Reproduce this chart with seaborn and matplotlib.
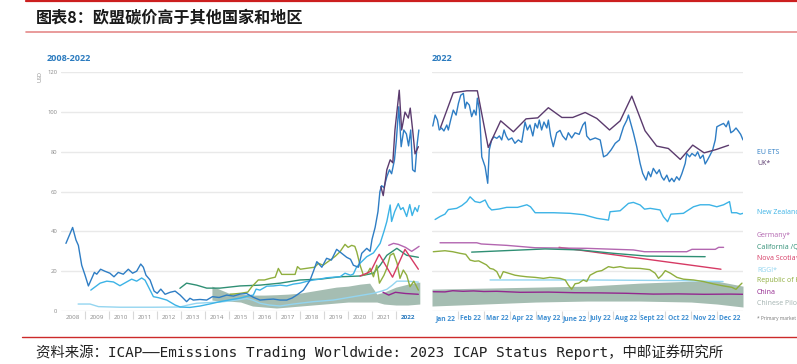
import numpy as np
import pandas as pd
import matplotlib
matplotlib.use("Agg")
import matplotlib.pyplot as plt
from matplotlib.lines import Line2D
import seaborn as sns

sns.set_theme(style="white")
plt.rcParams['font.family'] = ['Open Sans', 'Noto Sans CJK SC', 'DejaVu Sans']

W, H = 797, 364

# ---------------- data: 2008-2022 panel (decimal year, USD) ----------------
eu_year = [2008.19, 2008.33, 2008.47, 2008.61, 2008.71, 2008.85, 2008.99, 2009.13, 2009.27, 2009.38,
           2009.48, 2009.64, 2009.82, 2010.03, 2010.2, 2010.38, 2010.59, 2010.8, 2010.98, 2011.15,
           2011.32, 2011.43, 2011.54, 2011.71, 2011.88, 2012.01, 2012.16, 2012.34, 2012.55, 2012.76,
           2012.97, 2013.24, 2013.38, 2013.52, 2013.8, 2014.08, 2014.32, 2014.6, 2014.92, 2015.2,
           2015.48, 2015.75, 2016.03, 2016.31, 2016.6, 2016.87, 2017.15, 2017.43, 2017.65, 2017.85,
           2018.13, 2018.41, 2018.55, 2018.69, 2018.9, 2019.1, 2019.3, 2019.52, 2019.73, 2019.94,
           2020.1, 2020.22, 2020.43, 2020.57, 2020.78, 2020.92, 2021.0, 2021.13, 2021.25, 2021.33,
           2021.4, 2021.5, 2021.62, 2021.73, 2021.82, 2021.94, 2022.02, 2022.12, 2022.22, 2022.33,
           2022.44, 2022.53, 2022.62, 2022.7, 2022.8, 2022.89, 2022.96]
eu_usd = [34, 38, 42, 35.7, 33, 23, 18, 12.6, 16.4, 19.4,
          18.5, 21, 20, 19, 17.2, 19.4, 18.5, 21, 19, 20,
          23.6, 22, 18, 15.6, 10, 8.9, 11, 8.4, 9.4, 10,
          8, 4.7, 6.4, 5.5, 5.8, 5.5, 7.2, 6.8, 8, 7.5,
          8.5, 8.8, 6.9, 5.5, 5.8, 6, 5.5, 5.5, 6.5, 8,
          10.5, 15.6, 20, 24.8, 22, 26.5, 25.6, 31, 29, 27,
          26, 23, 22, 29, 31.5, 30, 36, 42, 50, 60,
          63, 62, 67.5, 71, 69, 76, 86, 102.7, 82.6, 91,
          89, 83, 91, 71, 70, 84, 91]

uk_year = [2021.37, 2021.47, 2021.62, 2021.76, 2021.87, 2021.96, 2022.14, 2022.24, 2022.38,
           2022.52, 2022.6, 2022.7, 2022.8, 2022.94]
uk_usd = [62.5, 58, 71, 76, 74.5, 91, 111, 91, 100, 97, 102, 91, 79, 82.6]

nz_year = [2009.23, 2009.62, 2009.9, 2010.18, 2010.45, 2010.73, 2010.94, 2011.15, 2011.36, 2011.5,
           2011.64, 2011.85, 2012.06, 2012.41, 2012.76, 2012.97, 2013.38, 2013.8, 2014.2, 2014.64,
           2015.0, 2015.48, 2015.8, 2016.03, 2016.15, 2016.31, 2016.6, 2016.87, 2017.15, 2017.43,
           2017.7, 2017.99, 2018.3, 2018.55, 2018.8, 2019.1, 2019.4, 2019.66, 2019.87, 2020.1,
           2020.22, 2020.35, 2020.5, 2020.78, 2021.06, 2021.34, 2021.5, 2021.62, 2021.76, 2021.82,
           2021.95, 2022.1, 2022.2, 2022.3, 2022.45, 2022.58, 2022.68, 2022.8, 2022.9, 2022.97]
nz_usd = [10.5, 14, 15, 14.6, 12.7, 14.6, 16, 15, 16.6, 15.5,
          12.2, 7.2, 6.7, 5.5, 3, 2, 1.8, 2.5, 3.5, 4.7,
          5.5, 6.5, 7.5, 8, 11, 10.5, 12.5, 12.6, 13, 12.6,
          13.5, 14, 15, 15.6, 16, 16.7, 17, 17.2, 19, 18,
          18.6, 22, 24, 27.3, 29.2, 34, 40, 45, 53.3, 45,
          50, 54, 51, 52, 47.5, 53.5, 48, 52, 50, 53]

rggi_year = [2008.7, 2009.2, 2009.55, 2010.45, 2011.85, 2012.96, 2013.3, 2013.66, 2014.64, 2015.34,
             2015.76, 2016.0, 2016.31, 2016.7, 2017.15, 2017.71, 2018.2, 2018.55, 2019.38, 2020.22,
             2021.06, 2021.4, 2021.62, 2021.85, 2022.04, 2022.5, 2022.94]
rggi_usd = [3.5, 3.5, 2.2, 1.9, 1.9, 2.0, 3.0, 3.9, 4.5, 5.5,
            6.3, 5.5, 3.9, 3.0, 2.5, 3.5, 4.2, 4.7, 5.5, 7.2,
            8.9, 10, 10.9, 13, 15, 15, 14.5]

cal_year = [2012.96, 2013.24, 2013.66, 2014.08, 2014.64, 2015.48, 2016.31, 2017.15, 2017.99, 2018.83,
            2019.66, 2020.5, 2021.06, 2021.34, 2021.62, 2022.04, 2022.45, 2022.94]
cal_usd = [11.4, 14, 13, 11.5, 11.5, 12.6, 13, 14, 15.6, 16,
           17.2, 17.6, 19, 23, 28, 31.5, 28, 27]

kor_year = [2015.06, 2015.5, 2015.8, 2015.97, 2016.24, 2016.5, 2016.73, 2016.95, 2017.08, 2017.22,
            2017.58, 2017.78, 2017.88, 2018.0, 2018.41, 2018.6, 2018.76, 2018.95, 2019.25, 2019.46,
            2019.66, 2019.87, 2020.0, 2020.15, 2020.28, 2020.36, 2020.5, 2020.64, 2020.8, 2020.92,
            2021.06, 2021.2, 2021.31, 2021.5, 2021.62, 2021.76, 2021.9, 2022.05, 2022.17, 2022.31,
            2022.45, 2022.59, 2022.75, 2022.94]
kor_usd = [8.4, 8.9, 9.5, 12.2, 15.6, 15.6, 16.4, 17, 21.4, 18.4,
           18.4, 18.4, 22.3, 21, 21.7, 22, 24, 23, 25.6, 27.5,
           29.8, 33.5, 32, 33, 32.5, 29.8, 23, 18, 18.8, 21.5,
           17.2, 23, 14, 18, 21.5, 28, 29, 24, 16.4, 20.6,
           18, 12.2, 15, 10.5]

ns_year = [2020.5, 2020.78, 2020.95, 2021.3, 2021.86, 2022.38, 2022.94]
ns_usd = [17.6, 19, 20, 28.5, 17, 31, 21]

ger_year = [2021.7, 2021.9, 2022.1, 2022.4, 2022.66, 2022.85, 2022.97]
ger_usd = [33, 34, 33.5, 32, 30, 31.5, 32.5]

chn_year = [2021.46, 2021.7, 2021.98, 2022.4, 2022.94]
chn_usd = [9.4, 8, 9.4, 8.8, 8.4]

pil_year = [2014.3, 2014.6, 2015.0, 2015.5, 2016.0, 2016.5, 2017.0, 2017.5, 2018.0, 2018.5,
            2019.0, 2019.5, 2020.0, 2020.5, 2020.9, 2021.2, 2021.5, 2022.0, 2022.5, 2023.0]
pil_high = [12.5, 11.0, 9.0, 8.5, 8.0, 8.0, 8.2, 8.5, 9.0, 10.0,
            11.0, 12.0, 12.5, 13.5, 14.0, 8.5, 9.5, 12.0, 13.5, 14.5]
pil_low = [5.5, 5.0, 5.0, 4.5, 2.5, 2.0, 1.5, 2.0, 2.5, 3.0,
           3.5, 4.0, 4.5, 4.5, 4.5, 4.5, 3.5, 3.0, 3.0, 3.5]

years = list(range(2008, 2023))

# ---------------- data: 2022 panel (months from 1 Jan, USD) ----------------
months = ["Jan 22", "Feb 22", "Mar 22", "Apr 22", "May 22", "June 22", "July 22",
          "Aug 22", "Sept 22", "Oct 22", "Nov 22", "Dec 22"]

eu22_t = [0.03, 0.12, 0.21, 0.28, 0.37, 0.46, 0.57, 0.63, 0.72, 0.82, 0.93, 1.02, 1.11, 1.21, 1.28,
          1.34, 1.44, 1.53, 1.62, 1.70, 1.75, 1.83, 1.92, 2.05, 2.15, 2.21, 2.3, 2.39, 2.5, 2.6,
          2.69, 2.78, 2.86, 2.95, 3.08, 3.2, 3.33, 3.46, 3.59, 3.68, 3.78, 3.89, 3.98, 4.07, 4.14,
          4.23, 4.32, 4.43, 4.49, 4.58, 4.68, 4.81, 4.94, 5.04, 5.17, 5.26, 5.39, 5.52, 5.68, 5.82,
          5.91, 5.97, 6.1, 6.3, 6.49, 6.62, 6.75, 6.91, 7.07, 7.23, 7.39, 7.52, 7.58, 7.67, 7.77,
          7.9, 8.03, 8.13, 8.26, 8.35, 8.44, 8.54, 8.67, 8.77, 8.86, 8.95, 9.06, 9.16, 9.25, 9.34,
          9.44, 9.54, 9.64, 9.77, 9.83, 9.94, 10.03, 10.16, 10.25, 10.35, 10.46, 10.54, 10.63, 10.73, 10.83,
          10.93, 10.99, 11.12, 11.25, 11.35, 11.44, 11.53, 11.63, 11.73, 11.82, 11.91, 12.0]
eu22_usd = [93, 98.5, 96, 91, 92, 90.5, 93.5, 91, 96, 101, 98.5, 104.4, 108.5, 109.4, 101.9,
            105, 103.5, 97.7, 101, 98.5, 107, 101, 77.5, 72.5, 64.2, 81, 86, 87.6, 86.8, 88,
            86, 91, 88, 86, 87, 84.3, 86, 84.8, 95, 91, 93.5, 88, 94.3, 92, 96,
            91, 95, 92, 96, 88, 82.6, 89.6, 90.8, 88, 86, 89.6, 87, 89.6, 88.8, 93.5,
            95, 88, 86, 87, 86, 77.5, 78.4, 81, 84.3, 86, 92.6, 96, 98.5, 94.3, 89.6,
            82.6, 74.2, 69.2, 65.8, 70, 67.5, 71.7, 69, 71, 67.5, 65.8, 68.3, 65, 66.7, 65,
            67.5, 65.8, 69, 74.2, 79.2, 77.5, 79.2, 77.9, 80, 76.7, 78.4, 73.9, 75.9, 78.4, 81,
            86, 92.6, 93.5, 94.3, 92.6, 95.5, 89.6, 90.5, 92, 90.5, 88.8, 86]

uk22_t = [0.33, 0.82, 1.34, 1.75, 2.17, 2.65, 3.14, 3.63, 4.08, 4.49, 5.01, 5.43, 5.91, 6.36,
          6.85, 7.26, 7.71, 8.22, 8.67, 9.12, 9.58, 10.06, 10.5, 10.97, 11.44]
uk22_usd = [92.3, 109.7, 110.7, 110.7, 82.2, 95.6, 90.1, 96.6, 97.1, 102.2, 97.3, 97.3, 99.8, 96.8,
            91, 95.6, 108, 90.6, 82.9, 81.7, 76.2, 83.4, 79.5, 81.2, 83.3]

nz22_t = [0.12, 0.31, 0.5, 0.63, 0.95, 1.15, 1.34, 1.47, 1.66, 1.85, 2.05, 2.18, 2.3, 2.6, 2.88,
          3.3, 3.66, 3.8, 3.98, 4.7, 5.33, 5.85, 6.36, 6.81, 6.87, 7.26, 7.58, 7.77, 8.03, 8.2,
          8.42, 8.8, 8.93, 9.09, 9.22, 9.7, 9.85, 10.09, 10.35, 10.7, 10.99, 11.25, 11.48, 11.56, 11.75,
          11.89, 12.0]
nz22_usd = [46, 47.5, 48.7, 51, 51.6, 53, 55, 57.4, 55, 54.5, 55.8, 52.4, 50.8, 51.3, 52.1,
            52.1, 53.4, 52.4, 49.4, 49.4, 49.1, 48.4, 46.6, 45.7, 49.9, 50.4, 54.1, 54.6, 53.3, 51.2,
            51.6, 50.8, 47.4, 44.9, 48.7, 49.1, 50.4, 52.4, 53.4, 53.4, 52.4, 53.4, 55, 49.4, 49.4,
            48.7, 49.1]

ger22_t = [0.31, 1.73, 1.9, 2.88, 3.98, 5.97, 7.77, 8.2, 9.83, 10.03, 10.93, 11.06, 11.25]
ger22_usd = [34.3, 34.3, 33.7, 33.0, 31.8, 31.5, 30.7, 29.8, 29.8, 31.0, 31.0, 32.0, 32.0]

cal22_t = [1.53, 4.36, 5.71, 7.0, 8.29, 10.54]
cal22_usd = [29.6, 31.2, 30.7, 29.0, 27.6, 27.3]

ns22_t = [4.9, 11.15]
ns22_usd = [32.0, 21.0]

rggi22_t = [2.24, 6.0, 9.5, 11.23]
rggi22_usd = [15.6, 15.6, 15.3, 14.8]

kor22_t = [0.05, 0.5, 0.8, 1.08, 1.3, 1.47, 1.65, 1.8, 1.98, 2.1, 2.24, 2.37, 2.5, 2.63, 2.75,
           2.95, 3.2, 3.4, 3.66, 3.98, 4.3, 4.55, 4.94, 5.14, 5.26, 5.39, 5.52, 5.66, 5.84, 5.97,
           6.1, 6.36, 6.55, 6.81, 7.0, 7.26, 7.5, 8.03, 8.4, 8.61, 8.74, 8.87, 9.0, 9.2, 9.45,
           9.7, 10.09, 10.48, 10.86, 11.25, 11.57, 11.73, 11.85, 11.96]
kor22_usd = [29.8, 30.3, 29.8, 29, 28.5, 25.6, 25, 25.2, 24, 23.2, 21.4, 21, 19.8, 16.4, 19.8,
             19, 18, 17.6, 17.2, 16.9, 16.4, 16.9, 16.4, 15.6, 13, 10.9, 13.7, 14, 15.6, 14.8,
             18, 19.8, 20.3, 22.3, 21.8, 22.3, 21.6, 21.4, 20.8, 19, 16.4, 18, 20.3, 19, 16.9,
             16, 15.6, 14.8, 13.6, 12.6, 11.9, 10.9, 12.6, 14]

chn22_t = [0.05, 0.5, 0.8, 1.2, 1.6, 2.0, 2.5, 3.4, 4.5, 5.5, 6.5, 7.5, 8.54, 9.5, 10.5, 11.5, 12.0]
chn22_usd = [9.7, 9.6, 10.2, 9.9, 10.1, 9.8, 9.9, 9.4, 9.5, 9.2, 9.1, 8.9, 8.5, 8.6, 8.4, 8.5, 8.4]

pil22_t = [0, 2, 4, 6, 8, 10, 11, 12]
pil22_high = [11, 11.5, 12, 12.5, 14, 15, 15, 12.5]
pil22_low = [2.5, 3.5, 4.5, 5, 5, 4.5, 3.5, 2]

# ---------------- colours ----------------
c_eu = '#2e7dc4'
c_uk = '#5b3b6e'
c_nz = '#3cb3e6'
c_ger = '#b366b0'
c_cal = '#2f8f74'
c_ns = '#d63a64'
c_rggi = '#94d5f0'
c_kor = '#8fae3e'
c_chn = '#93278f'
c_pil = '#a5bdb2'
c_title = '#2b7bbf'
c_grid = '#e9e9e9'
c_tick = '#8a8a8a'

fig = plt.figure(figsize=(W / 100, H / 100), dpi=100)


def fx(px):
    return px / W


def fy(py):
    return 1 - py / H


bottom = fy(311)
height = (311 - 72.3) / H
ax1 = fig.add_axes([fx(61.4), bottom, (419.8 - 61.4) / W, height])
ax2 = fig.add_axes([fx(432), bottom, (743 - 432) / W, height])

for ax in (ax1, ax2):
    for v in range(0, 121, 20):
        ax.axhline(v, color=c_grid, lw=1.0, zorder=0)
    ax.set_ylim(0, 120)
    sns.despine(ax=ax, left=True, bottom=True)
    ax.set_facecolor('none')

# left panel
ax1.fill_between(pil_year, pil_low, pil_high, color=c_pil, lw=0, zorder=1)
lw = 1.0
for xs, ys, c in [(rggi_year, rggi_usd, c_rggi), (cal_year, cal_usd, c_cal),
                  (kor_year, kor_usd, c_kor), (nz_year, nz_usd, c_nz),
                  (ns_year, ns_usd, c_ns), (ger_year, ger_usd, c_ger),
                  (chn_year, chn_usd, c_chn), (eu_year, eu_usd, c_eu),
                  (uk_year, uk_usd, c_uk)]:
    sns.lineplot(x=xs, y=ys, ax=ax1, color=c, linewidth=lw, zorder=3)

ax1.set_xlim(2008, 2023)
ax1.set_xticks([y + 0.5 for y in years])
ax1.set_xticklabels([str(y) for y in years], fontsize=4.5, color=c_tick)
ax1.get_xticklabels()[-1].set_color(c_title)
ax1.get_xticklabels()[-1].set_fontweight('bold')
ax1.set_xticks(years[1:], minor=True)
ax1.set_yticks(range(0, 121, 20))
ax1.set_yticklabels([str(v) for v in range(0, 121, 20)], fontsize=4.2, color=c_tick)
ax1.tick_params(axis='both', which='major', length=0, pad=3)
ax1.tick_params(axis='x', which='minor', length=6, color='#d8d8d8', width=0.8, bottom=True)
ax1.set_xlabel('')
ax1.set_ylabel('')

# right panel
ax2.fill_between(pil22_t, pil22_low, pil22_high, color=c_pil, lw=0, zorder=1)
for xs, ys, c in [(rggi22_t, rggi22_usd, c_rggi), (ns22_t, ns22_usd, c_ns),
                  (ger22_t, ger22_usd, c_ger), (cal22_t, cal22_usd, c_cal),
                  (kor22_t, kor22_usd, c_kor), (chn22_t, chn22_usd, c_chn),
                  (nz22_t, nz22_usd, c_nz), (eu22_t, eu22_usd, c_eu),
                  (uk22_t, uk22_usd, c_uk)]:
    sns.lineplot(x=xs, y=ys, ax=ax2, color=c, linewidth=lw, zorder=3)

ax2.set_xlim(0, 12)
ax2.set_xticks([m + 0.5 for m in range(12)])
ax2.set_xticklabels(months, fontsize=4.8, color='#3f8fd2', fontweight='bold')
ax2.set_xticks(range(1, 12), minor=True)
ax2.set_yticks([])
ax2.tick_params(axis='x', which='major', length=0, pad=3)
ax2.tick_params(axis='x', which='minor', length=6, color='#d8d8d8', width=0.8, bottom=True)
ax2.set_xlabel('')
ax2.set_ylabel('')

# panel titles
fig.text(fx(46.5), fy(58.3), '2008-2022', fontsize=6.5, fontweight='bold', color=c_title, va='center')
fig.text(fx(431.5), fy(58.3), '2022', fontsize=6.5, fontweight='bold', color=c_title, va='center')
fig.text(fx(40.5), fy(76), 'USD', fontsize=4, color=c_tick, rotation=90, ha='center', va='center')

# legend labels (the source image cuts the longer ones at its right edge)
legend_rows = [('EU ETS', 152.3, c_eu), ('UK*', 164, c_uk), ('New Zealand', 212.7, c_nz),
               ('Germany*', 235.7, c_ger), ('California /Québec', 247.3, c_cal),
               ('Nova Scotia*', 259, c_ns), ('RGGI*', 270, c_rggi),
               ('Republic of Korea', 280.7, c_kor), ('China', 292, c_chn),
               ('Chinese Pilots', 303.3, '#a3b2b0')]
for label, py, c in legend_rows:
    fig.text(fx(757), fy(py), label, fontsize=5, color=c, va='center')
fig.text(fx(757), fy(318.5), '* Primary market', fontsize=3.5, color='#777777', va='center')

# header and footer
fig.add_artist(Line2D([fx(26), 1], [fy(0.8), fy(0.8)], color='#cc1f1f', lw=1.6))
fig.add_artist(Line2D([fx(26), 1], [fy(32.4), fy(32.4)], color='#e58a8a', lw=1.2))
fig.add_artist(Line2D([fx(22), 1], [fy(336.8), fy(336.8)], color='#cc2a2a', lw=1.0))
fig.text(fx(36), fy(17.3), '图表8：欧盟碳价高于其他国家和地区', fontsize=11.6, fontweight='bold',
         color='#1a1a1a', va='center', family=['Noto Sans CJK SC', 'DejaVu Sans'])
fig.text(fx(36.5), fy(352), '资料来源：ICAP——Emissions Trading Worldwide: 2023 ICAP Status Report，中邮证券研究所',
         fontsize=10.4, color='#222222', va='center', family=['DejaVu Sans Mono', 'Noto Sans CJK SC'])

fig.savefig('out.png', dpi=100)
